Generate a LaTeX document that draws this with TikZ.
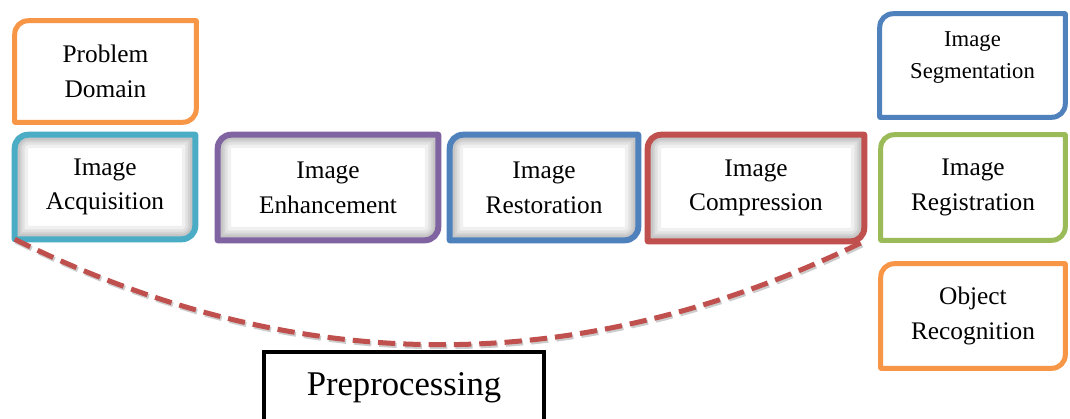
\documentclass[tikz,border=0pt]{standalone}
\usepackage{fontspec}
\setmainfont{Liberation Serif}
\usepackage{tikz}
\usepackage{xcolor}
\usetikzlibrary{positioning}

\definecolor{stageorange}{HTML}{F79646}
\definecolor{stageteal}{HTML}{4BACC6}
\definecolor{stagepurple}{HTML}{8064A2}
\definecolor{stageblue}{HTML}{4F81BD}
\definecolor{stagered}{HTML}{C0504D}
\definecolor{stagegreen}{HTML}{9BBB59}

\tikzset{
    stagebox/.style={
        rectangle,
        draw=none,
        align=center,
        inner sep=0pt,
        font=\rmfamily\fontsize{19}{26}\selectfont % same size in all boxes
    },
    prebox/.style={
        rectangle,
        draw=black,
        line width=3pt,
        inner sep=0pt,
        font=\rmfamily\fontsize{26}{30}\selectfont
    },
    linkcurve/.style={
        draw=stagered,
        line width=3.75pt,
        dash pattern=on 13pt off 6pt
    }
}

% box outline: round corners top left and bottom right only
\newcommand{\cornerpath}[1]{([xshift=10pt]#1.north west) arc[start angle=90, end angle=180, radius=10pt] -- (#1.south west) -- ([xshift=-10pt]#1.south east) arc[start angle=270, end angle=360, radius=10pt] -- (#1.north east) -- cycle}

\newcommand{\plainframe}[2]{%
    \draw[#2, line width=3.75pt, line join=round] \cornerpath{#1};
}
\newcommand{\glowframe}[2]{%
    \begin{scope}
        \clip \cornerpath{#1};
        \foreach \w in {20,15,11,8}
            \draw[black, opacity=0.06, line width=\w pt] \cornerpath{#1};
    \end{scope}
    \draw[#2, line width=4.5pt, line join=round] \cornerpath{#1};
}

\begin{document}
\begin{tikzpicture}[x=0.75pt, y=-0.75pt]

    \clip (0,0) rectangle (1070,418);
    \fill[white] (0,0) rectangle (1070,418);

    \node[stagebox, minimum width=135.75pt, minimum height=75.75pt] (problem) at (105.5,71.5) {Problem\\Domain};

    \node[stagebox, minimum width=135pt, minimum height=78pt] (acquisition) at (105,187) {Image\\Acquisition};
    \node[stagebox, minimum width=165pt, minimum height=78.75pt] (enhancement) at (328,187.5) {Image\\Enhancement};
    \node[stagebox, minimum width=141pt, minimum height=78.75pt] (restoration) at (544,187.5) {Image\\Restoration};
    \node[stagebox, minimum width=162pt, minimum height=79.5pt] (compression) at (756,188) {Image\\Compression};

    \node[stagebox, minimum width=138.75pt, minimum height=77.25pt, text depth=15pt,
        font=\rmfamily\fontsize{17}{24}\selectfont] (segmentation) at (972.5,65.5) {Image\\Segmentation};
    \node[stagebox, minimum width=138pt, minimum height=78.75pt] (registration) at (973,187.5) {Image\\Registration};
    \node[stagebox, minimum width=138pt, minimum height=78pt] (recognition) at (973,316) {Object\\Recognition};

    \node[prebox, minimum width=210pt, minimum height=54pt] (preproc) at (404,388) {Preprocessing};

    \plainframe{problem}{stageorange}
    \glowframe{acquisition}{stageteal}
    \glowframe{enhancement}{stagepurple}
    \glowframe{restoration}{stageblue}
    \glowframe{compression}{stagered}
    \plainframe{segmentation}{stageblue}
    \plainframe{registration}{stagegreen}
    \plainframe{recognition}{stageorange}

    \draw[linkcurve, draw=black!20, transform canvas={xshift=1pt, yshift=-1.5pt}]
        (acquisition.south west) .. controls (297,379) and (579,380) .. (compression.south east);
    \draw[linkcurve]
        (acquisition.south west) .. controls (297,379) and (579,380) .. (compression.south east);

\end{tikzpicture}
\end{document}
